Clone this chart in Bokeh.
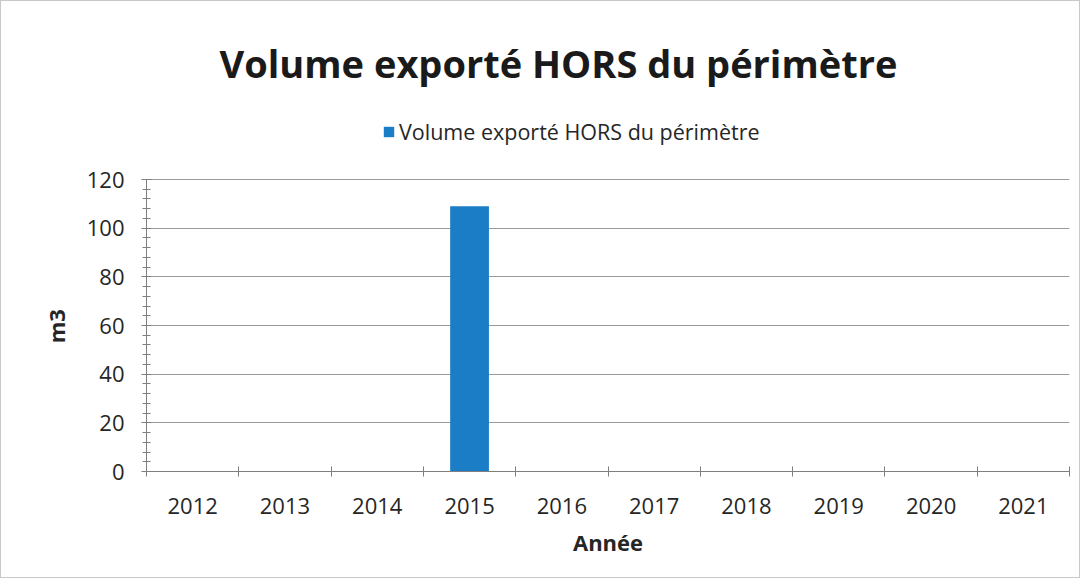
from bokeh.plotting import figure
from bokeh.models import (Range1d, Legend, LegendItem, ColumnDataSource, FixedTicker, LinearAxis)
from bokeh.embed import file_html
from bokeh.resources import INLINE

years = ["2012", "2013", "2014", "2015", "2016", "2017", "2018", "2019", "2020", "2021"]
volumes = [0, 0, 0, 109, 0, 0, 0, 0, 0, 0]
series_name = "Volume exporté HORS du périmètre"
y_ticks = [0, 20, 40, 60, 80, 100, 120]

FONT = "Open Sans"
TXT = "#262626"
AX = "#7f7f7f"

n = len(years)
slot_centers = [i + 0.5 for i in range(n)]
slot_edges = list(range(n + 1))
y_max = y_ticks[-1]

# frame extends above the axis so the legend sits inside it (axis/grid stop at 120)
p = figure(width=1080, height=578, output_backend="svg", toolbar_location=None,
           x_range=Range1d(0, n), y_range=Range1d(0, 150),
           x_axis_location=None,
           min_border_left=145, min_border_right=12, min_border_bottom=108, min_border_top=105)
p.styles = {"border": "1px solid #c8c8c8"}
p.outline_line_color = None

src = ColumnDataSource(dict(x=slot_centers, top=volumes, year=years))
r = p.vbar(x="x", top="top", width=0.42, source=src, fill_color="#1B7DC6", line_color=None)

legend = Legend(items=[LegendItem(label=series_name, renderers=[r])], orientation="horizontal",
                location=(236, 325), label_text_font=FONT, label_text_font_size="21.5px",
                label_text_color=TXT, glyph_width=13, glyph_height=13, border_line_color=None,
                background_fill_alpha=0, padding=2, margin=0, label_standoff=4)
p.add_layout(legend, "center")

p.title.text = series_name
p.title.text_font = FONT
p.title.text_font_size = "38px"
p.title.text_font_style = "bold"
p.title.text_color = "#1a1a1a"
p.title.align = "left"
p.title.offset = 73
p.title.standoff = 36

# labels at category centres, tick marks (minor ticks) at category boundaries
xa = LinearAxis(ticker=FixedTicker(ticks=slot_centers, minor_ticks=slot_edges),
                major_label_overrides={c: y for c, y in zip(slot_centers, years)},
                axis_line_color=AX, major_tick_line_color=None,
                minor_tick_line_color=AX, minor_tick_in=5, minor_tick_out=5,
                major_label_text_font=FONT, major_label_text_font_size="22px",
                major_label_text_color=TXT, major_label_standoff=20,
                axis_label="Année", axis_label_text_font=FONT, axis_label_text_font_size="22px",
                axis_label_text_font_style="bold", axis_label_text_color=TXT, axis_label_standoff=10)
p.add_layout(xa, "below")

ya = p.yaxis[0]
ya.bounds = (0, y_max)
ya.ticker = FixedTicker(ticks=y_ticks, minor_ticks=list(range(0, y_max + 1, 4)))
ya.axis_line_color = AX
ya.major_tick_line_color = AX
ya.major_tick_in = 5
ya.major_tick_out = 5
ya.minor_tick_line_color = AX
ya.minor_tick_in = 4
ya.minor_tick_out = 4
ya.major_label_text_font = FONT
ya.major_label_text_font_size = "22px"
ya.major_label_text_color = TXT
ya.major_label_standoff = 17
ya.axis_label = "m3" + "\u00a0" * 13
ya.axis_label_text_font = FONT
ya.axis_label_text_font_size = "22px"
ya.axis_label_text_font_style = "bold"
ya.axis_label_text_color = TXT
ya.axis_label_standoff = 13

p.xgrid.grid_line_color = None
p.ygrid.ticker = FixedTicker(ticks=y_ticks)
p.ygrid.grid_line_color = "#9a9a9a"
p.ygrid.grid_line_width = 1

open("out.html", "w").write(file_html(p, INLINE))
